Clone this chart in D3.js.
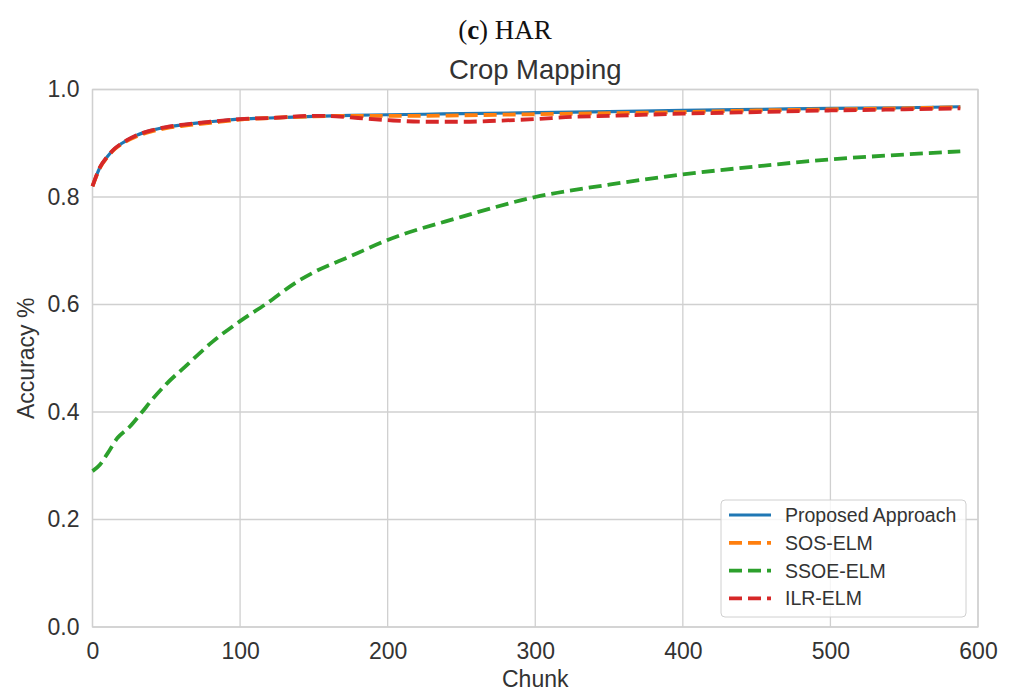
<!DOCTYPE html>
<html><head><meta charset="utf-8">
<script src="https://cdn.jsdelivr.net/npm/d3@7"></script>
<style>body{margin:0;background:#fff}svg{display:block}</style>
</head><body>
<svg id="c" width="1011" height="693"></svg>
<script>
const seriesNames = ["Proposed Approach","SOS-ELM","SSOE-ELM","ILR-ELM"];
const seriesColors = ["#1f77b4","#ff7f0e","#2ca02c","#d62728"];
const xTicks = [0,100,200,300,400,500,600];
const yTicks = [0.0,0.2,0.4,0.6,0.8,1.0];

const proposedX = [0,5,10,15,20,30,40,50,60,80,100,120,150,175,200,225,250,300,350,400,450,500,550,588];
const proposedY = [0.82,0.855,0.875,0.89,0.90,0.915,0.924,0.93,0.934,0.94,0.945,0.947,0.950,0.952,0.953,0.954,0.955,0.957,0.959,0.961,0.963,0.965,0.966,0.968];

const sosX = [0,5,10,15,20,30,40,50,60,80,100,120,150,175,200,225,250,300,350,400,450,500,550,588];
const sosY = [0.82,0.854,0.874,0.889,0.899,0.913,0.922,0.928,0.932,0.938,0.944,0.947,0.950,0.951,0.951,0.951,0.952,0.954,0.956,0.958,0.961,0.963,0.965,0.967];

const ssoeX = [0,5,10,17,25,33,41,50,63,81,100,117,139,150,175,200,250,300,350,400,450,500,550,588];
const ssoeY = [0.29,0.302,0.322,0.352,0.372,0.398,0.425,0.452,0.485,0.530,0.569,0.600,0.643,0.660,0.690,0.720,0.763,0.800,0.823,0.842,0.857,0.870,0.879,0.885];

const ilrX = [0,5,10,15,20,30,40,50,60,80,100,120,150,165,180,200,225,250,275,300,325,350,400,450,500,550,588];
const ilrY = [0.82,0.855,0.875,0.89,0.90,0.915,0.924,0.93,0.934,0.94,0.945,0.947,0.951,0.950,0.947,0.943,0.940,0.940,0.942,0.945,0.949,0.951,0.955,0.958,0.961,0.963,0.965];

const allX = [proposedX, sosX, ssoeX, ilrX];
const allY = [proposedY, sosY, ssoeY, ilrY];

const svg = d3.select("#c");
const L = 92.5, R = 978, T = 89.5, B = 627;
const x = d3.scaleLinear().domain([0,600]).range([L,R]);
const y = d3.scaleLinear().domain([0,1]).range([B,T]);
const grid = "#d0d0d0";
const txt = "#333";
const sans = "'Liberation Sans', Arial, sans-serif";

// grid
svg.append("g").selectAll("line").data(xTicks).join("line")
  .attr("x1",d=>x(d)).attr("x2",d=>x(d)).attr("y1",T).attr("y2",B)
  .attr("stroke",grid).attr("stroke-width",1.3);
svg.append("g").selectAll("line").data(yTicks).join("line")
  .attr("x1",L).attr("x2",R).attr("y1",d=>y(d)).attr("y2",d=>y(d))
  .attr("stroke",grid).attr("stroke-width",1.3);
svg.append("rect").attr("x",L).attr("y",T).attr("width",R-L).attr("height",B-T)
  .attr("fill","none").attr("stroke",grid).attr("stroke-width",1.3);

// axes
const xAxis = d3.axisBottom(x).tickValues(xTicks).tickSize(0).tickPadding(16).tickFormat(d3.format("d"));
const gx = svg.append("g").attr("transform",`translate(0,${B})`).call(xAxis);
gx.select(".domain").remove();
gx.selectAll("text").attr("font-family",sans).attr("font-size",23).attr("fill",txt);
const yAxis = d3.axisLeft(y).tickValues(yTicks).tickSize(0).tickPadding(13).tickFormat(d3.format(".1f"));
const gy = svg.append("g").attr("transform",`translate(${L},0)`).call(yAxis);
gy.select(".domain").remove();
gy.selectAll("text").attr("font-family",sans).attr("font-size",23).attr("fill",txt);

// labels
svg.append("text").attr("x",(L+R)/2).attr("y",687).attr("text-anchor","middle")
  .attr("font-family",sans).attr("font-size",23).attr("fill",txt).text("Chunk");
svg.append("text").attr("transform",`translate(34,${(T+B)/2}) rotate(-90)`).attr("text-anchor","middle")
  .attr("font-family",sans).attr("font-size",23).attr("fill",txt).text("Accuracy %");
svg.append("text").attr("x",(L+R)/2).attr("y",79).attr("text-anchor","middle")
  .attr("font-family",sans).attr("font-size",27.5).attr("fill",txt).text("Crop Mapping");
const t1 = svg.append("text").attr("x",505).attr("y",39).attr("text-anchor","middle")
  .attr("font-family","'Liberation Serif', 'Times New Roman', serif").attr("font-size",27).attr("fill","#111");
t1.append("tspan").text("(");
t1.append("tspan").attr("font-weight","bold").text("c");
t1.append("tspan").text(") HAR");

// lines
const dashes = [null,"13,6","13,6","13,6"];
const widths = [3.2,3.8,3.8,3.8];
[0,1,2,3].forEach(i=>{
  const pts = allX[i].map((v,k)=>[v,allY[i][k]]);
  const line = d3.line().x(d=>x(d[0])).y(d=>y(d[1])).curve(d3.curveMonotoneX);
  svg.append("path").datum(pts).attr("d",line).attr("fill","none")
    .attr("stroke",seriesColors[i]).attr("stroke-width",widths[i])
    .attr("stroke-dasharray",dashes[i]);
});

// legend
const lg = svg.append("g");
lg.append("rect").attr("x",721).attr("y",500).attr("width",245).attr("height",117).attr("rx",4)
  .attr("fill","#fff").attr("fill-opacity",0.8).attr("stroke","#d0d0d0").attr("stroke-width",1);
seriesNames.forEach((n,i)=>{
  const yy = 515 + i*27.8;
  lg.append("line").attr("x1",729).attr("x2",771).attr("y1",yy).attr("y2",yy)
    .attr("stroke",seriesColors[i]).attr("stroke-width",widths[i]).attr("stroke-dasharray",dashes[i]?"13,6":null);
  lg.append("text").attr("x",785).attr("y",yy+7).attr("font-family",sans)
    .attr("font-size",19.5).attr("fill",txt).text(n);
});
</script>
</body></html>
